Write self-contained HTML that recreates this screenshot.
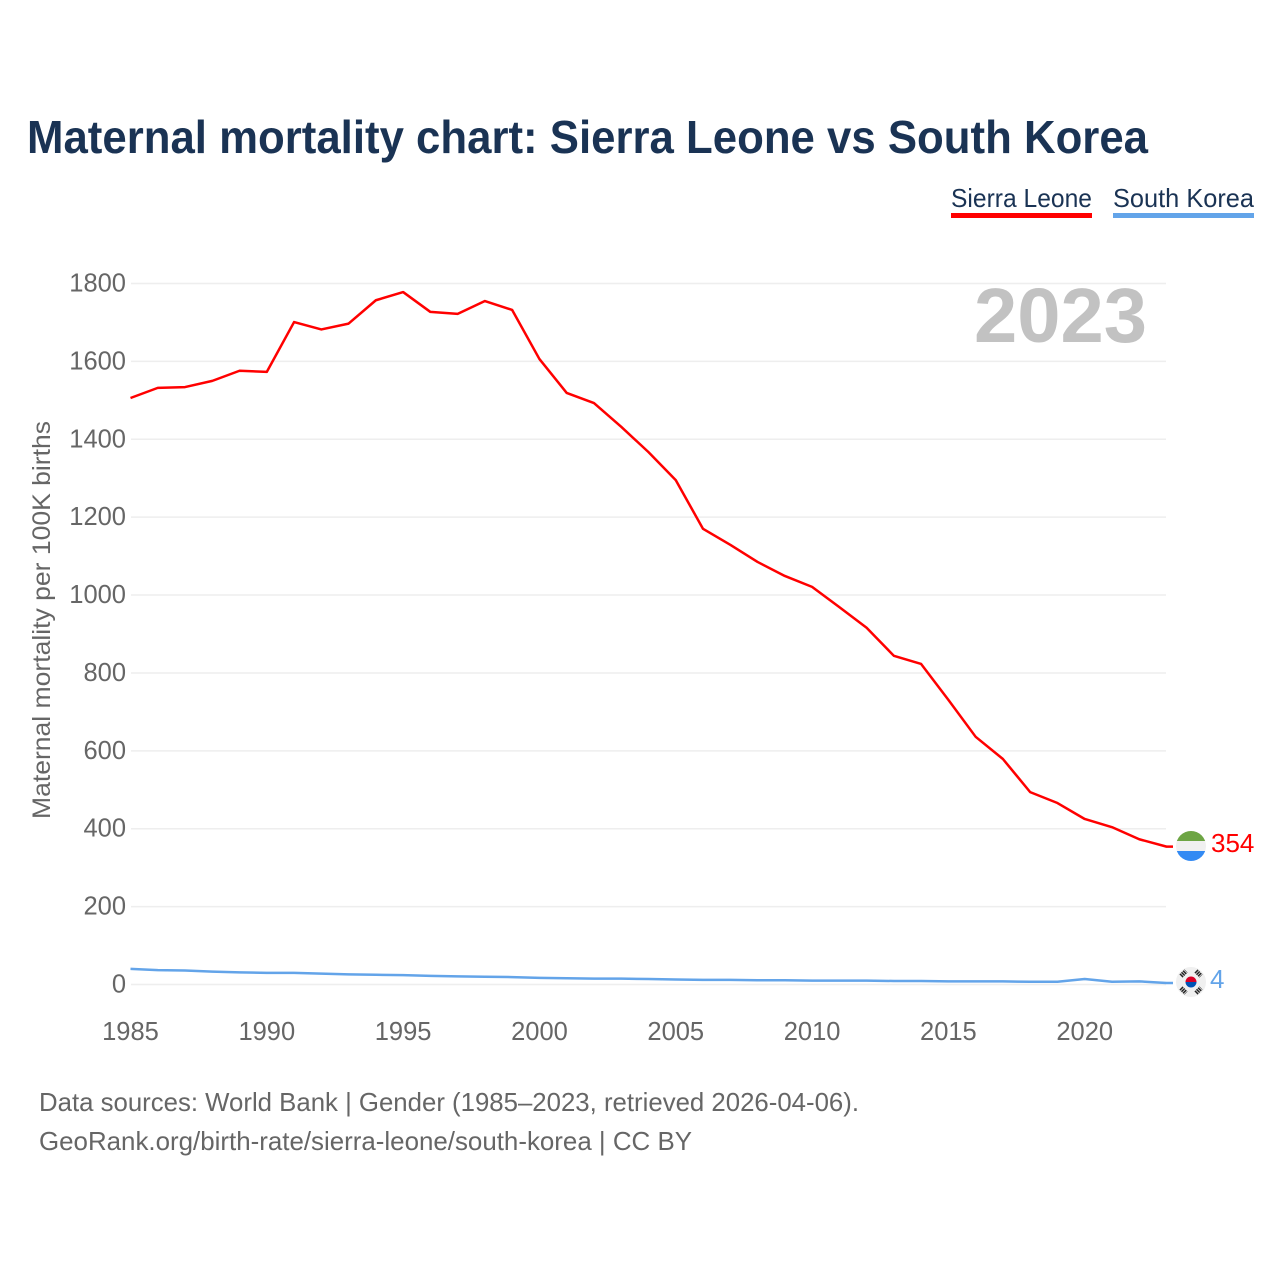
<!DOCTYPE html>
<html lang="en">
<head>
<meta charset="utf-8">
<title>Maternal mortality chart: Sierra Leone vs South Korea</title>
<style>
html,body{margin:0;padding:0;background:#fff;width:1280px;height:1280px;overflow:hidden}
svg{display:block}
text{font-family:"Liberation Sans",sans-serif}
</style>
</head>
<body>
<svg id="chart" xmlns="http://www.w3.org/2000/svg" width="1280" height="1280" viewBox="0 0 1280 1280">
  <rect x="0" y="0" width="1280" height="1280" fill="#ffffff"/>
  <text x="27" y="153" font-size="46" font-weight="700" fill="#1a3354" textLength="1121" lengthAdjust="spacingAndGlyphs">Maternal mortality chart: Sierra Leone vs South Korea</text>

  <g>
    <text x="951" y="207" font-size="26" fill="#1a3354" textLength="141" lengthAdjust="spacingAndGlyphs">Sierra Leone</text>
    <rect x="951" y="213" width="141" height="5" fill="#ff0000"/>
  </g>
  <g>
    <text x="1113" y="207" font-size="26" fill="#1a3354" textLength="141" lengthAdjust="spacingAndGlyphs">South Korea</text>
    <rect x="1113" y="213" width="141" height="5" fill="#63a4e9"/>
  </g>

  <g id="grid"></g>
  <g id="yticks"></g>
  <g id="xticks"></g>

  <text transform="translate(50 620) rotate(-90)" text-anchor="middle" font-size="25" fill="#666666" textLength="398" lengthAdjust="spacingAndGlyphs">Maternal mortality per 100K births</text>
  <text x="974" y="342" font-size="77" font-weight="700" fill="#c2c2c2" textLength="173" lengthAdjust="spacingAndGlyphs">2023</text>

  <g id="series"></g>

  <g id="flag-sl">
    <clipPath id="clip-sl"><circle cx="1191" cy="846" r="15"/></clipPath>
    <g clip-path="url(#clip-sl)">
      <rect x="1176" y="831" width="30" height="10" fill="#6da544"/>
      <rect x="1176" y="841" width="30" height="10" fill="#f0f0f0"/>
      <rect x="1176" y="851" width="30" height="10" fill="#338af3"/>
    </g>
  </g>
  <g id="flag-kr">
    <circle cx="1191" cy="982" r="15" fill="#f0f0f0"/>
    <path d="M1185.5 982a5.5 5.5 0 0 1 11 0z" fill="#d80027"/>
    <path d="M1185.5 982a5.5 5.5 0 0 0 11 0z" fill="#0052b4"/>
    <g stroke="#222222" stroke-width="4.5" stroke-dasharray="1.5 .7" fill="none">
      <path d="M1181 976l5-5"/>
      <path d="M1196 971l5 5"/>
      <path d="M1181 988l5 5"/>
      <path d="M1196 993l5-5"/>
    </g>
  </g>

  <text id="value-sl" x="1211" y="852" font-size="26" fill="#ff0000"></text>
  <text id="value-kr" x="1210" y="988" font-size="26" fill="#63a4e9"></text>

  <text x="39" y="1111" font-size="26" fill="#666666" textLength="820" lengthAdjust="spacingAndGlyphs">Data sources: World Bank | Gender (1985–2023, retrieved 2026-04-06).</text>
  <text x="39" y="1150" font-size="26" fill="#666666" textLength="653" lengthAdjust="spacingAndGlyphs">GeoRank.org/birth-rate/sierra-leone/south-korea | CC BY</text>
</svg>
<script>
const years = [1985,1986,1987,1988,1989,1990,1991,1992,1993,1994,1995,1996,1997,1998,1999,2000,2001,2002,2003,2004,2005,2006,2007,2008,2009,2010,2011,2012,2013,2014,2015,2016,2017,2018,2019,2020,2021,2022,2023];
const sierraLeone = [1506,1532,1534,1550,1576,1573,1701,1682,1697,1757,1778,1727,1722,1755,1732,1606,1519,1493,1432,1367,1295,1170,1129,1085,1049,1021,969,916,844,823,731,636,579,494,466,425,404,373,354];
const southKorea = [40,37,36,33,31,30,30,28,26,25,24,22,21,20,19,17,16,15,15,14,13,12,12,11,11,10,10,10,9,9,8,8,8,7,7,14,7,8,4];
const yTickValues = [0,200,400,600,800,1000,1200,1400,1600,1800];
const xTickValues = [1985,1990,1995,2000,2005,2010,2015,2020];

const NS = 'http://www.w3.org/2000/svg';
function xScale(year) { return 130.5 + (year - 1985) * (1166.5 - 130.5) / (2023 - 1985); }
function yScale(value) { return 984.5 - value * (984.5 - 283.5) / 1800; }
function make(tag, parent) {
  const el = document.createElementNS(NS, tag);
  parent.appendChild(el);
  return el;
}

const grid = document.getElementById('grid');
const yticks = document.getElementById('yticks');
yTickValues.forEach(function (v) {
  const line = make('line', grid);
  
  
  line.setAttribute('x1', 131);
  line.setAttribute('x2', 1166);
  line.setAttribute('y1', yScale(v));
  line.setAttribute('y2', yScale(v));
  line.setAttribute('stroke', '#eeeeee');
  line.setAttribute('stroke-width', '1.5');
  const label = make('text', yticks);
  
  
  label.setAttribute('x', 126);
  label.setAttribute('y', yScale(v) + 8);
  label.setAttribute('text-anchor', 'end');
  label.setAttribute('font-size', '25.5');
  label.setAttribute('fill', '#666666');
  label.textContent = v;
});

const xticks = document.getElementById('xticks');
xTickValues.forEach(function (v) {
  const label = make('text', xticks);
  
  
  label.setAttribute('x', xScale(v));
  label.setAttribute('y', 1040);
  label.setAttribute('text-anchor', 'middle');
  label.setAttribute('font-size', '25.5');
  label.setAttribute('fill', '#666666');
  label.textContent = v;
});

function linePath(values) {
  let d = values.map(function (v, i) {
    return (i ? 'L' : 'M') + xScale(years[i]).toFixed(2) + ' ' + yScale(v).toFixed(2);
  }).join('');
  d += 'L1173 ' + yScale(values[values.length - 1]).toFixed(2);
  return d;
}

const seriesGroup = document.getElementById('series');
const koreaLine = make('path', seriesGroup);


koreaLine.setAttribute('d', linePath(southKorea));
koreaLine.setAttribute('fill', 'none');
koreaLine.setAttribute('stroke', '#63a4e9');
koreaLine.setAttribute('stroke-width', '2.5');
koreaLine.setAttribute('stroke-linejoin', 'round');

const leoneLine = make('path', seriesGroup);


leoneLine.setAttribute('d', linePath(sierraLeone));
leoneLine.setAttribute('fill', 'none');
leoneLine.setAttribute('stroke', '#ff0000');
leoneLine.setAttribute('stroke-width', '2.5');
leoneLine.setAttribute('stroke-linejoin', 'round');

document.getElementById('value-sl').textContent = sierraLeone[sierraLeone.length - 1];
document.getElementById('value-kr').textContent = southKorea[southKorea.length - 1];
</script>
</body>
</html>
